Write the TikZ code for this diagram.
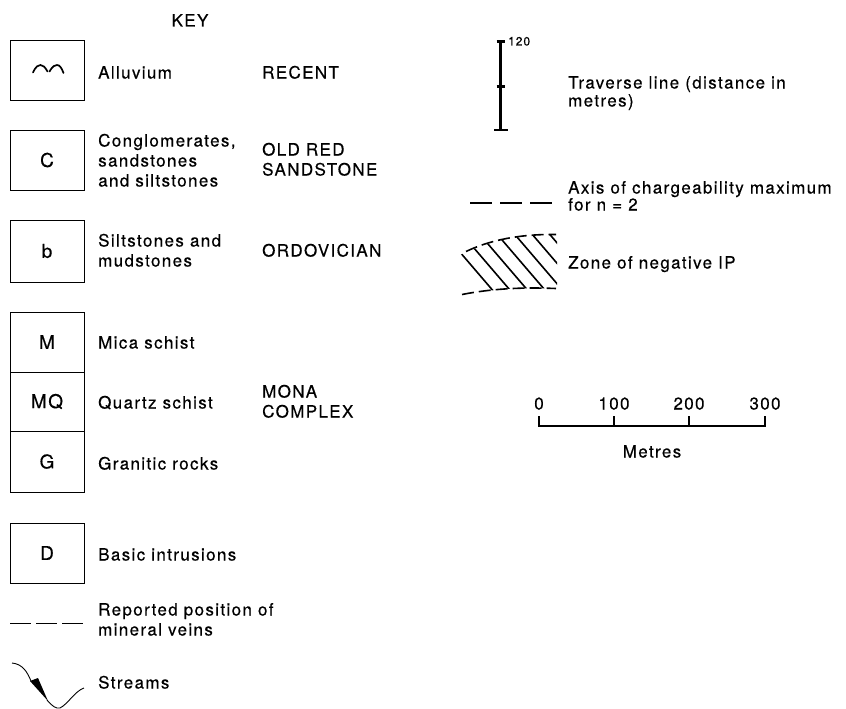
\documentclass[tikz,border=0pt]{standalone}
\usepackage{fontspec}
\setmainfont{TeX Gyre Heros}[LetterSpace=8, FakeBold=0.4]
\usepackage{tikz}
\newcommand{\legendfont}{\fontsize{17}{20}\selectfont}
\newcommand{\tinyfont}{\fontsize{12}{14}\selectfont}
\tikzstyle{unit}=[rectangle, draw, line width=0.9pt, minimum width=74pt, inner sep=0pt, font=\fontsize{19}{22}\selectfont]
\tikzstyle{desc}=[anchor=base west, inner sep=0pt, font=\legendfont]
\tikzstyle{mid}=[anchor=base, inner sep=0pt, font=\legendfont]
\tikzstyle{vein}=[line width=0.9pt, dash pattern=on 21pt off 5pt]
\tikzstyle{axis}=[line width=2.6pt, dash pattern=on 22pt off 8pt]

\begin{document}
\begin{tikzpicture}[x=1pt, y=-1pt]
                    \useasboundingbox (0,0) rectangle (846,709);
                    \node[mid] (key) at (190,26.5) {KEY};
                    \node[unit, minimum height=60pt] (alluv) at (47,70) {};
                    \node[unit, minimum height=60pt] (congl) at (47,160) {C};
                    \node[unit, minimum height=62pt] (silt) at (47,251) {b};
                    \node[unit, minimum height=60pt] (mica) at (47,342) {M};
                    \node[unit, minimum height=59pt] (qtz) at (47,401.5) {MQ};
                    \node[unit, minimum height=61pt] (gran) at (47,461.5) {G};
                    \node[unit, minimum height=60pt] (basic) at (47,553) {D};
                    \node[desc] (t1) at (98,78.5) {Alluvium};
                    \node[desc] (t2a) at (98,146.5) {Conglomerates,};
                    \node[desc] (t2b) at (98,166.5) {sandstones};
                    \node[desc] (t2c) at (98,186.5) {and siltstones};
                    \node[desc] (t3a) at (98,246.5) {Siltstones and};
                    \node[desc] (t3b) at (98,266.5) {mudstones};
                    \node[desc] (t4) at (98,348.5) {Mica schist};
                    \node[desc] (t5) at (98,408.5) {Quartz schist};
                    \node[desc] (t6) at (98,469.5) {Granitic rocks};
                    \node[desc] (t7) at (98,560.5) {Basic intrusions};
                    \node[desc] (t8a) at (98,615.5) {Reported position of};
                    \node[desc] (t8b) at (98,635.5) {mineral veins};
                    \node[desc] (t9) at (98,688.5) {Streams};
                    \node[desc] (a1) at (262,78.5) {RECENT};
                    \node[desc] (a2a) at (262,155.5) {OLD RED};
                    \node[desc] (a2b) at (262,175.5) {SANDSTONE};
                    \node[desc] (a3) at (262,256.5) {ORDOVICIAN};
                    \node[desc] (a4a) at (262,397.5) {MONA};
                    \node[desc] (a4b) at (262,417.5) {COMPLEX};
                    \node[desc] (r1a) at (568,88.5) {Traverse line (distance in};
                    \node[desc] (r1b) at (568,106.5) {metres)};
                    \node[desc] (r2a) at (568,193.5) {Axis of chargeability maximum};
                    \node[desc] (r2b) at (568,210.5) {for n = 2};
                    \node[desc] (r3) at (568,268.5) {Zone of negative IP};
                    \node[anchor=base west, inner sep=0pt, font=\tinyfont] (dist) at (508,45.5) {120};
                    \node[mid] (m0) at (539,409.5) {0};
                    \node[mid] (m1) at (614,409.5) {100};
                    \node[mid] (m2) at (689,409.5) {200};
                    \node[mid] (m3) at (765,409.5) {300};
                    \node[mid] (metres) at (652,457.5) {Metres};
                    \draw[line width=1.7pt, line cap=round]
                        (33,72.5) .. controls (36,66) and (38.5,65) .. (40.5,65)
                        .. controls (43,65) and (45,67) .. (47.5,71.5)
                        (49.5,71.5) .. controls (52.5,66) and (55,65) .. (57,65)
                        .. controls (59.5,65) and (61.5,67.5) .. (63.5,73)
                    ;
                    \draw[vein] (10,623) -- (84,623);
                    \draw[line width=0.9pt]
                        (12,663) .. controls (22,664) and (27,671) .. (31,681)
                        (47,700) .. controls (52,706) and (56,709) .. (60,708)
                        .. controls (68,704) and (75,691) .. (84,688)
                    ;
                    \fill (30,681) -- (38,678) -- (48,701) -- cycle;
                    \draw[line width=2.3pt]
                        (500.5,41.5) -- (500.5,130)
                        (496.5,41.5) -- (504.5,41.5)
                        (496.5,86.5) -- (505,86.5)
                        (494,130) -- (508,130)
                    ;
                    \draw[axis] (470,203) -- (555,203);
                    \begin{scope}
                        \clip (458,256) .. controls (485,242) and (520,234) .. (557,234)
                            -- (557,289) .. controls (520,287) and (490,289) .. (458,296) -- cycle;
                        \foreach \i in {-2,...,6}
                            \draw[line width=1.6pt] (476+17.5*\i,230) -- ++(60,70);
                    \end{scope}
                    \draw[line width=1.6pt, dash pattern=on 12pt off 5pt]
                        (466,251.5) .. controls (490,240) and (520,234) .. (556,234.5)
                        (462,294.5) .. controls (490,289) and (520,287) .. (556,288.5)
                    ;
                    \draw[line width=1.4pt]
                        (m0 |- 0,416) -- (m0 |- 0,426) -- (m3 |- 0,426) -- (m3 |- 0,416)
                        (m1 |- 0,416) -- (m1 |- 0,426)
                        (m2 |- 0,416) -- (m2 |- 0,426)
                    ;
                \end{tikzpicture}
\end{document}
